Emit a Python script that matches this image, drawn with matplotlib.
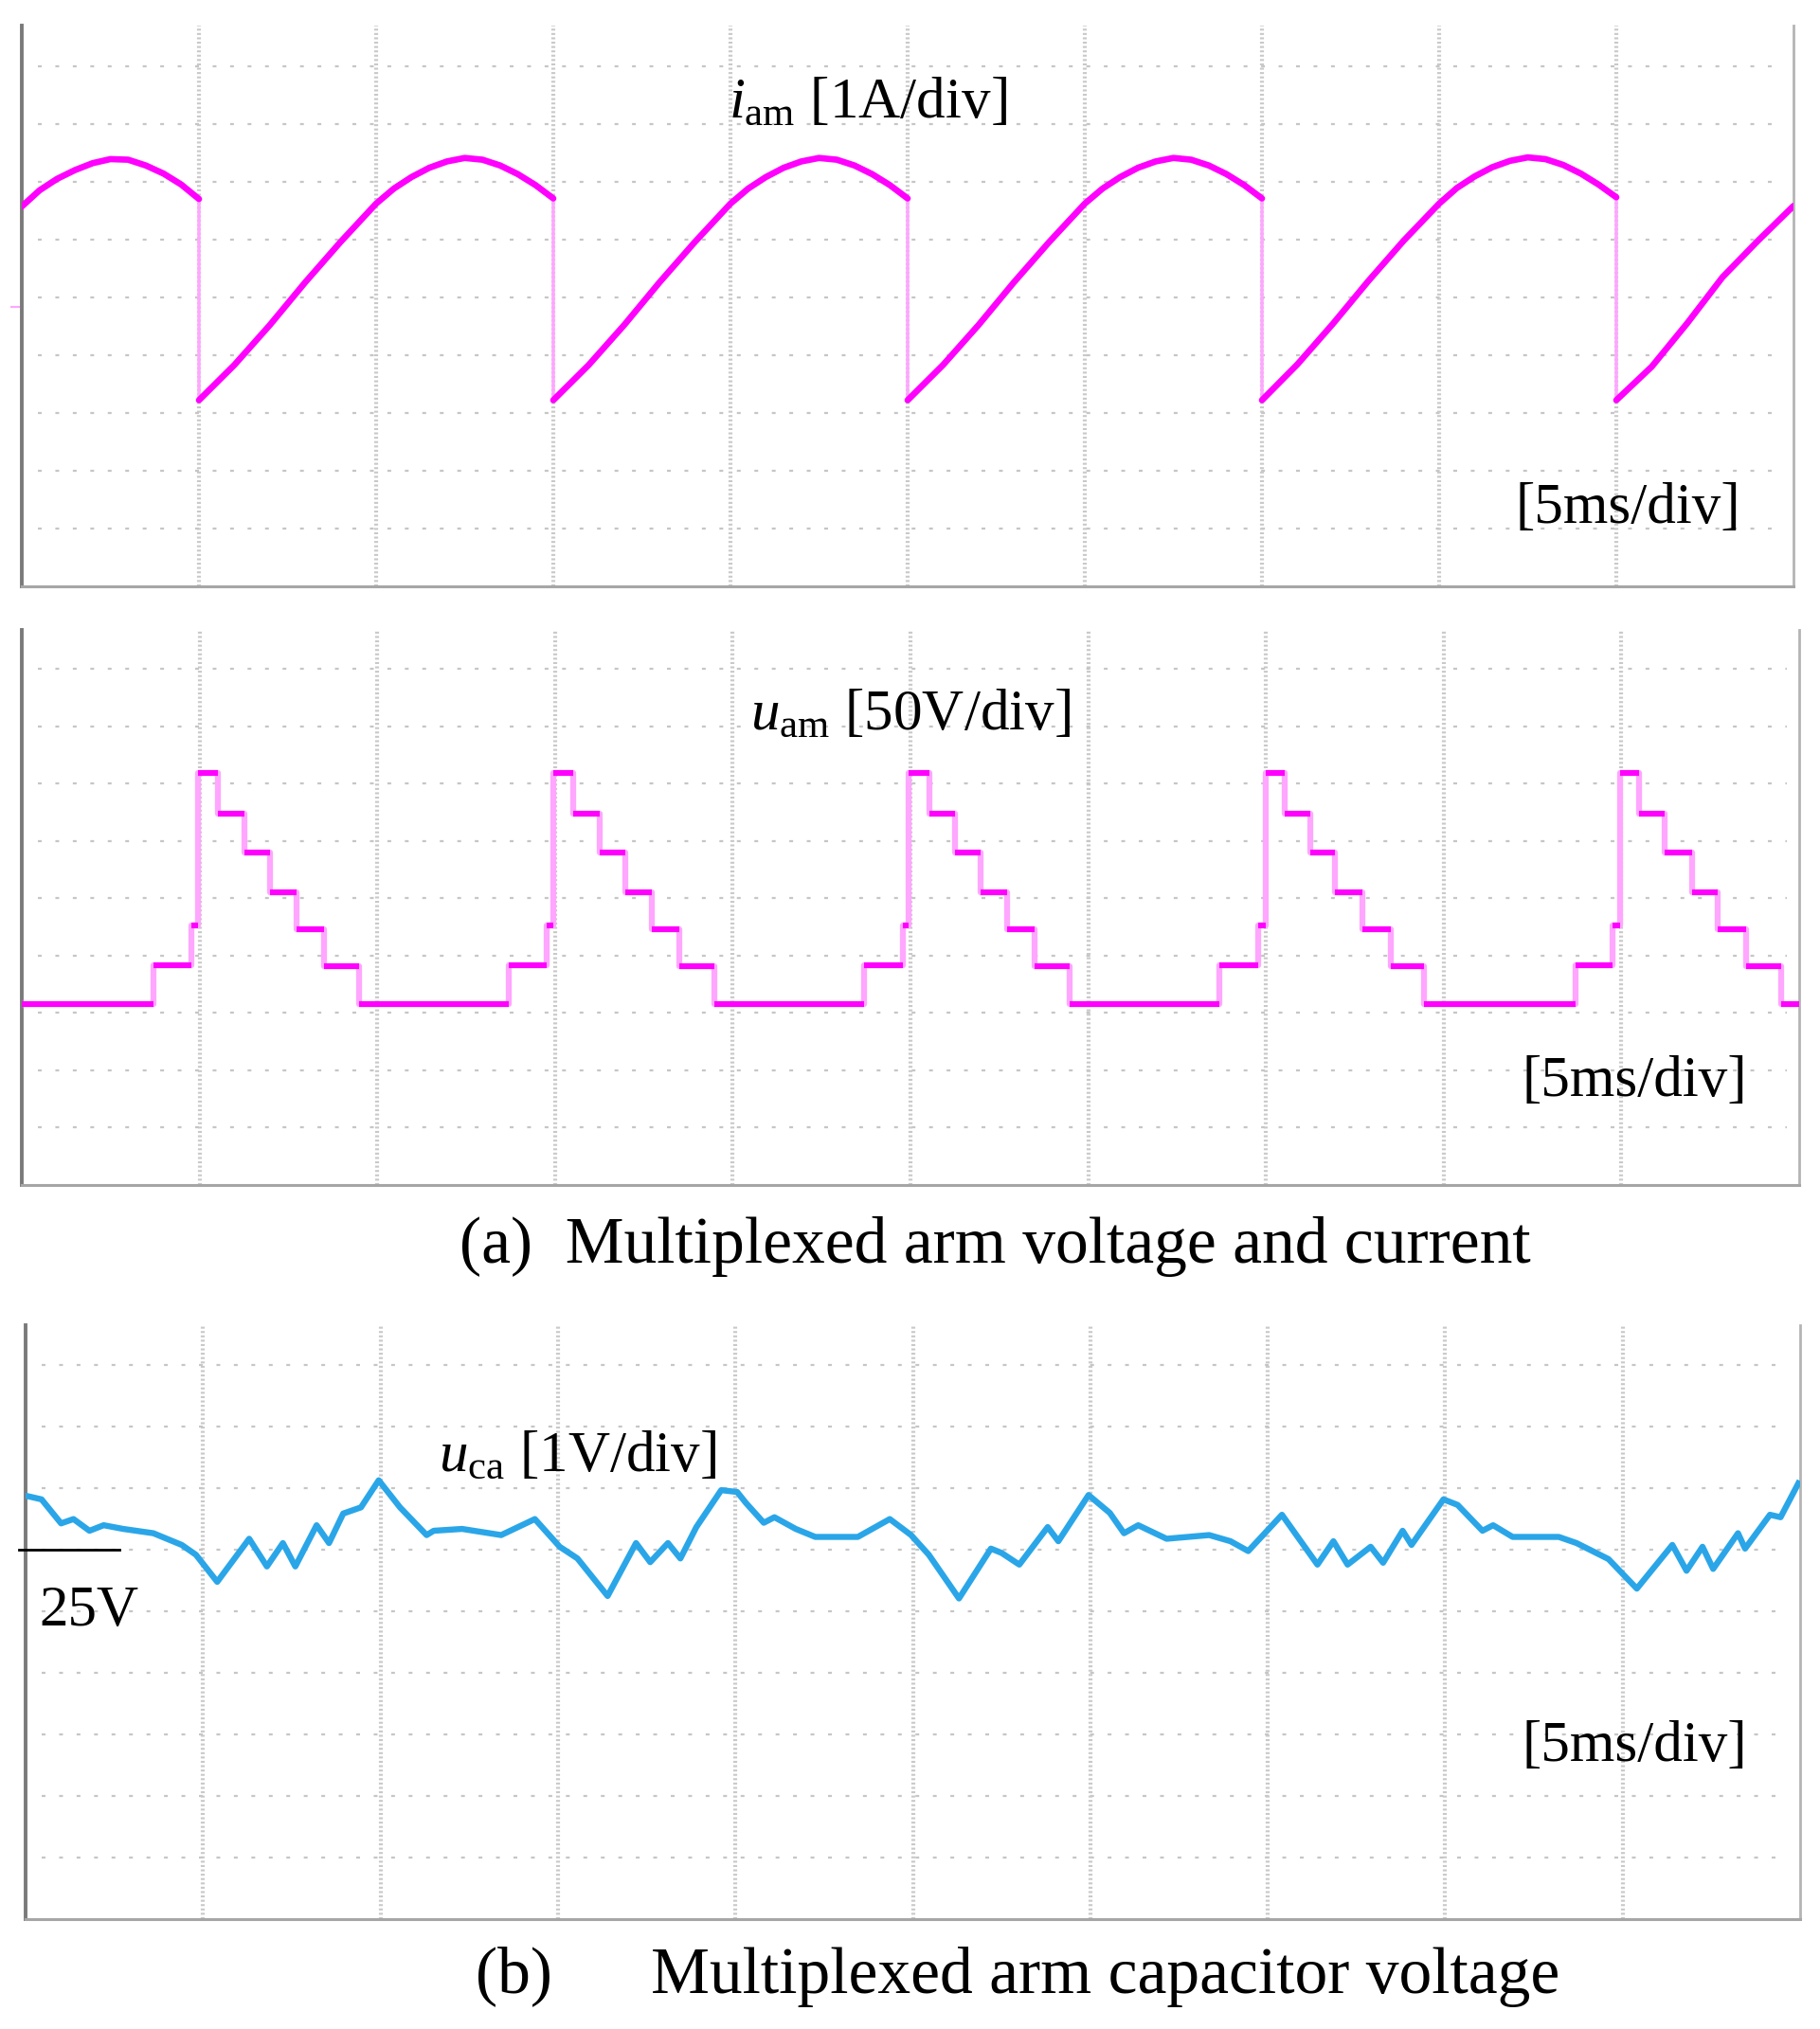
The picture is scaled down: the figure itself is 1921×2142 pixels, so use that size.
import numpy as np
import matplotlib
matplotlib.use("Agg")
import matplotlib.pyplot as plt

plt.rcParams['font.family'] = ['Liberation Serif', 'DejaVu Serif']
plt.rcParams['mathtext.fontset'] = 'custom'
plt.rcParams['mathtext.rm'] = 'Liberation Serif'
plt.rcParams['mathtext.it'] = 'Liberation Serif:italic'

# ---------------------------------------------------------------------------
# Data (x in divisions of 5 ms, y in divisions)

# arm current i_am (drops repeat the time value)
iam_t = [0.00, 0.10, 0.20, 0.30, 0.40, 0.50, 0.60, 0.70, 0.80, 0.90, 1.00,
         1.00, 1.20, 1.40, 1.60, 1.80, 2.00, 2.10, 2.20, 2.30, 2.40, 2.50, 2.60, 2.70, 2.80, 2.90, 3.00,
         3.00, 3.20, 3.40, 3.60, 3.80, 4.00, 4.10, 4.20, 4.30, 4.40, 4.50, 4.60, 4.70, 4.80, 4.90, 5.00,
         5.00, 5.20, 5.40, 5.60, 5.80, 6.00, 6.10, 6.20, 6.30, 6.40, 6.50, 6.60, 6.70, 6.80, 6.90, 7.00,
         7.00, 7.20, 7.40, 7.60, 7.80, 8.00, 8.10, 8.20, 8.30, 8.40, 8.50, 8.60, 8.70, 8.80, 8.90, 9.00,
         9.00, 9.20, 9.40, 9.60, 9.80, 10.00]
iam_v = [6.57, 6.85, 7.05, 7.20, 7.32, 7.39, 7.38, 7.28, 7.14, 6.95, 6.70,
         3.22, 3.83, 4.52, 5.26, 5.96, 6.62, 6.88, 7.08, 7.24, 7.35, 7.41, 7.38, 7.28, 7.13, 6.94, 6.71,
         3.22, 3.83, 4.52, 5.26, 5.96, 6.62, 6.88, 7.08, 7.24, 7.35, 7.41, 7.38, 7.28, 7.13, 6.94, 6.71,
         3.22, 3.83, 4.52, 5.26, 5.96, 6.62, 6.88, 7.08, 7.24, 7.35, 7.41, 7.38, 7.28, 7.13, 6.94, 6.71,
         3.22, 3.84, 4.54, 5.28, 5.98, 6.62, 6.89, 7.09, 7.25, 7.36, 7.42, 7.39, 7.29, 7.14, 6.95, 6.73,
         3.22, 3.80, 4.55, 5.35, 5.98, 6.58]

# arm voltage u_am (staircase, value holds from each time to the next)
uam_t = [0.00, 0.74, 0.955, 0.99, 1.105, 1.25, 1.395, 1.545, 1.70, 1.895,
         2.74, 2.955, 2.99, 3.105, 3.25, 3.395, 3.545, 3.70, 3.895,
         4.74, 4.955, 4.99, 5.105, 5.25, 5.395, 5.545, 5.70, 5.895,
         6.74, 6.955, 7.00, 7.105, 7.25, 7.39, 7.545, 7.70, 7.89,
         8.74, 8.95, 8.99, 9.10, 9.245, 9.40, 9.54, 9.70, 9.90, 10.00]
uam_v = [3.16, 3.84, 4.52, 7.19, 6.48, 5.79, 5.11, 4.46, 3.81, 3.16,
         3.84, 4.52, 7.19, 6.48, 5.79, 5.11, 4.46, 3.81, 3.16,
         3.84, 4.52, 7.19, 6.48, 5.79, 5.11, 4.46, 3.81, 3.16,
         3.84, 4.52, 7.19, 6.48, 5.79, 5.11, 4.46, 3.81, 3.16,
         3.84, 4.52, 7.19, 6.48, 5.79, 5.11, 4.46, 3.81, 3.16, 3.16]

# capacitor voltage u_ca
uca_t = [0.00, 0.09, 0.20, 0.27, 0.36, 0.44, 0.55, 0.72, 0.88, 0.96, 1.08, 1.26, 1.36,
         1.45, 1.52, 1.64, 1.71, 1.79, 1.89, 1.99, 2.11, 2.26, 2.30, 2.46, 2.68, 2.87,
         3.01, 3.11, 3.28, 3.44, 3.52, 3.62, 3.69, 3.78, 3.92, 4.01, 4.06, 4.16, 4.22,
         4.34, 4.45, 4.69, 4.87, 4.99, 5.09, 5.26, 5.44, 5.50, 5.60, 5.76, 5.82, 5.99,
         6.11, 6.19, 6.27, 6.43, 6.67, 6.79, 6.89, 7.08, 7.28, 7.37, 7.45, 7.58, 7.65,
         7.76, 7.81, 7.99, 8.07, 8.21, 8.27, 8.38, 8.64, 8.74, 8.92, 9.08, 9.28, 9.36,
         9.45, 9.51, 9.65, 9.69, 9.83, 9.89, 9.99]
uca_v = [6.88, 6.82, 6.43, 6.50, 6.31, 6.40, 6.34, 6.27, 6.08, 5.92, 5.48, 6.18, 5.73,
         6.11, 5.73, 6.40, 6.11, 6.59, 6.69, 7.13, 6.69, 6.24, 6.31, 6.34, 6.24, 6.50,
         6.05, 5.86, 5.25, 6.11, 5.80, 6.11, 5.86, 6.37, 6.97, 6.94, 6.76, 6.44, 6.53,
         6.34, 6.21, 6.21, 6.50, 6.24, 5.92, 5.21, 6.02, 5.95, 5.76, 6.37, 6.14, 6.89,
         6.60, 6.27, 6.40, 6.18, 6.24, 6.14, 5.98, 6.57, 5.76, 6.14, 5.76, 6.05, 5.79,
         6.31, 6.08, 6.82, 6.73, 6.31, 6.40, 6.21, 6.21, 6.11, 5.85, 5.37, 6.08, 5.66,
         6.05, 5.69, 6.27, 6.02, 6.57, 6.53, 7.08]

MAGENTA = '#ff00ff'
PINK = '#ffa6ff'
BLUE = '#2aa6e8'

# ---------------------------------------------------------------------------
W, H = 1921, 2142
fig = plt.figure(figsize=(W / 100, H / 100), dpi=100)


def panel(l, t, r, b, ytop):
    ax = fig.add_axes([l / W, 1 - b / H, (r - l) / W, (b - t) / H])
    ax.set_xlim(0, 10)
    ax.set_ylim(0, ytop)
    ax.set_xticks([])
    ax.set_yticks([])
    for k in range(1, 10):
        ax.axvline(k, color='#c9c9c9', lw=3, dashes=(0.5, 0.6), zorder=1)
        ax.plot([0.09, 9.93], [k, k], color='#c6c6c6', lw=1.6, dashes=(1.8, 6.5), zorder=1)
    ax.spines['top'].set_visible(False)
    ax.spines['left'].set_color('#7a7a7a')
    ax.spines['left'].set_linewidth(2.8)
    ax.spines['bottom'].set_color('#a6a6a6')
    ax.spines['bottom'].set_linewidth(2.2)
    ax.spines['right'].set_color('#b4b4b4')
    ax.spines['right'].set_linewidth(2.0)
    return ax


txt = dict(fontsize=44, color='black', va='center', zorder=5)

# (a) top: arm current
ax1 = panel(23, 27, 1893, 619, 9.7)
t1 = np.array(iam_t)
v1 = np.array(iam_v)
ax1.plot(t1, v1, color=PINK, lw=2.5, zorder=3)
cuts = np.where(np.diff(t1) == 0)[0] + 1
for seg_t, seg_v in zip(np.split(t1, cuts), np.split(v1, cuts)):
    ax1.plot(seg_t, seg_v, color=MAGENTA, lw=4.8, solid_capstyle='round',
             solid_joinstyle='round', zorder=4)
ax1.plot([-0.06, 0.0], [4.83, 4.83], color=PINK, lw=1.5, clip_on=False)
ax1.text(3.99, 8.36, r'$\mathit{i}_{\mathrm{am}}$ [1A/div]', ha='left', **txt)
ax1.text(9.70, 1.34, '[5ms/div]', ha='right', **txt)

# (a) middle: arm voltage
ax2 = panel(23, 665, 1899, 1251, 9.68)
ax2.step(uam_t, uam_v, where='post', color=PINK, lw=4.5, zorder=3)
ax2.hlines(uam_v[:-1], uam_t[:-1], uam_t[1:], color=MAGENTA, lw=4.4, zorder=4)
ax2.text(4.10, 8.2, r'$\mathit{u}_{\mathrm{am}}$ [50V/div]', ha='left', **txt)
ax2.text(9.71, 1.8, '[5ms/div]', ha='right', **txt)

fig.text(0.5466, 1 - 1316 / H, '(a)  Multiplexed arm voltage and current',
         fontsize=50, ha='center', va='center')

# (b) capacitor voltage
ax3 = panel(27, 1399, 1900, 2026, 9.65)
ax3.plot(uca_t, uca_v, color=BLUE, lw=4.6, solid_joinstyle='round', zorder=4)
ax3.plot([-0.04, 0.53], [6.0, 6.0], color='black', lw=2.0, clip_on=False, zorder=5)
ax3.text(0.075, 5.0, '25V', ha='left', **txt)
ax3.text(2.33, 7.52, r'$\mathit{u}_{\mathrm{ca}}$ [1V/div]', ha='left', **txt)
ax3.text(9.70, 2.8, '[5ms/div]', ha='right', **txt)

fig.text(0.5590, 1 - 2087 / H, '(b)      Multiplexed arm capacitor voltage',
         fontsize=50, ha='center', va='center')

fig.savefig('out.png', dpi=100)
